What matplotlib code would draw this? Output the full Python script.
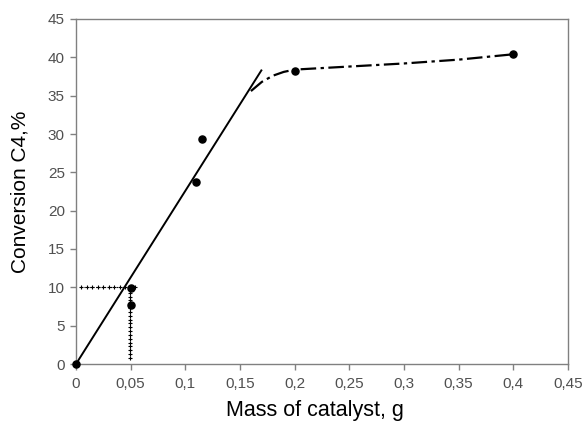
import matplotlib
matplotlib.use("Agg")
import matplotlib.pyplot as plt
from matplotlib.ticker import FuncFormatter

# Data points
mass = [0.0, 0.05, 0.05, 0.11, 0.115, 0.2, 0.4]
conversion = [0.0, 9.9, 7.7, 23.8, 29.4, 38.2, 40.4]

# Solid linear fit
lin_x = [0.0, 0.17]
lin_y = [0.0, 38.4]

# Dash-dot plateau curve
curve_x = [0.16, 0.17, 0.18, 0.19, 0.2, 0.25, 0.3, 0.35, 0.4]
curve_y = [35.6, 36.8, 37.6, 38.1, 38.4, 38.8, 39.2, 39.7, 40.4]

# Dotted guide lines
hguide_x = [0.005, 0.01, 0.015, 0.02, 0.025, 0.03, 0.035, 0.04, 0.045, 0.05, 0.054]
hguide_y = [10.1] * len(hguide_x)
vguide_y = [0.8, 1.3, 1.8, 2.3, 2.8, 3.3, 3.8, 4.3, 4.8, 5.3, 5.8, 6.3, 6.8,
            7.3, 7.8, 8.3, 8.8, 9.3, 9.8]
vguide_x = [0.049] * len(vguide_y)

xticks = [0, 0.05, 0.1, 0.15, 0.2, 0.25, 0.3, 0.35, 0.4, 0.45]
yticks = [0, 5, 10, 15, 20, 25, 30, 35, 40, 45]

plt.rcParams['font.family'] = ['Liberation Sans', 'DejaVu Sans']

fig = plt.figure(figsize=(5.86, 4.25), dpi=100)
ax = fig.add_axes([76/586, 1-364/425, (568-76)/586, (364-19)/425])

ax.plot(lin_x, lin_y, color='black', lw=1.4, solid_capstyle='butt')
ax.plot(curve_x, curve_y, color='black', lw=1.6, linestyle=(0, (7, 2, 1.5, 2)))
ax.plot(hguide_x, hguide_y, color='black', lw=0.8, linestyle=':', marker='+', ms=3.5, mew=0.8)
ax.plot(vguide_x, vguide_y, color='black', lw=0.8, linestyle=':', marker='+', ms=3.0, mew=0.8)
ax.scatter(mass, conversion, color='black', s=26, zorder=5, clip_on=False)

ax.set_xlim(0, 0.45)
ax.set_ylim(0, 45)
ax.set_xticks(xticks)
ax.set_yticks(yticks)

def fmt(v, pos):
    return ('%g' % v).replace('.', ',')
ax.xaxis.set_major_formatter(FuncFormatter(fmt))

for sp in ax.spines.values():
    sp.set_color('#808080')
    sp.set_linewidth(1.0)

ax.tick_params(axis='both', direction='out', length=4, width=1, color='#808080',
               labelsize=11, labelcolor='#505050', pad=4)
ax.tick_params(axis='x', pad=5)

ax.set_xlabel('Mass of catalyst, g', fontsize=15.5, labelpad=6)
ax.set_ylabel('Conversion C4,%', fontsize=15, labelpad=12)
ax.xaxis.set_label_coords(0.485, -0.105)
ax.yaxis.set_label_coords(-0.095, 0.5)

fig.savefig('out.png', dpi=100)
